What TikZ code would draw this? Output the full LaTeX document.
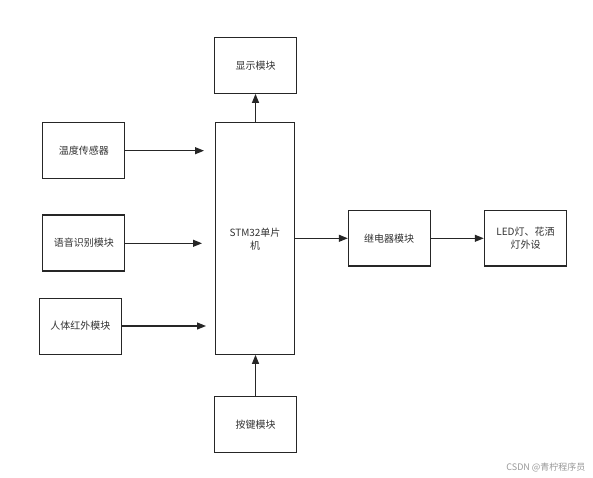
\documentclass[tikz,border=0pt]{standalone}
\usepackage{fontspec}
\setmainfont{Noto Sans CJK SC}
\usetikzlibrary{arrows.meta}
\begin{document}
\begin{tikzpicture}[x=1pt,y=-1pt,
  blk/.style={draw=black!85,line width=1.1pt,inner sep=0pt,font=\fontsize{10}{13}\selectfont,align=center,text=black!80},
  arr/.style={draw=black!85,line width=1.1pt,-{Triangle[length=9pt,width=7pt]}}]
\useasboundingbox[fill=white] (0,0) rectangle (593,478);
\node[blk,minimum width=82pt,minimum height=56pt] (disp) at (255.5,65.3) {显示模块};
\node[blk,minimum width=82pt,minimum height=56pt] (temp) at (83.8,150.5) {温度传感器};
\node[blk,minimum width=82pt,minimum height=56pt] (voice) at (83.8,243) {语音识别模块};
\node[blk,minimum width=82pt,minimum height=56pt] (ir) at (80.3,326.2) {人体红外模块};
\node[blk,minimum width=82pt,minimum height=56pt] (key) at (255.5,424.5) {按键模块};
\node[blk,minimum width=78.6pt,minimum height=231.6pt] (mcu) at (255,238.5) {};
\node[font=\fontsize{10}{13}\selectfont,align=center,text=black!80] (mcutxt) at (255,239.5) {STM32单片\\机};
\node[blk,minimum width=81.7pt,minimum height=55.3pt] (relay) at (389.2,238.3) {继电器模块};
\node[blk,minimum width=82.4pt,minimum height=55.3pt] (led) at (525.5,238.3) {LED灯、花洒\\灯外设};
\coordinate (t1) at (204,150.7);
\coordinate (t2) at (202,243.3);
\coordinate (t3) at (206,326);
\draw[arr] (temp.east |- t1) -- (t1);
\draw[arr] (voice.east |- t2) -- (t2);
\draw[arr] (ir.east |- t3) -- (t3);
\draw[arr] (mcu.north -| disp.south) -- (disp.south);
\draw[arr] (key.north) -- (key.north |- mcu.south);
\draw[arr] (mcu.east |- relay.west) -- (relay.west);
\draw[arr] (relay.east) -- (led.west);
\node[font=\fontsize{9}{11}\selectfont,text=black!40,anchor=east] (wm) at (589,467) {CSDN @青柠程序员};
\end{tikzpicture}
\end{document}
